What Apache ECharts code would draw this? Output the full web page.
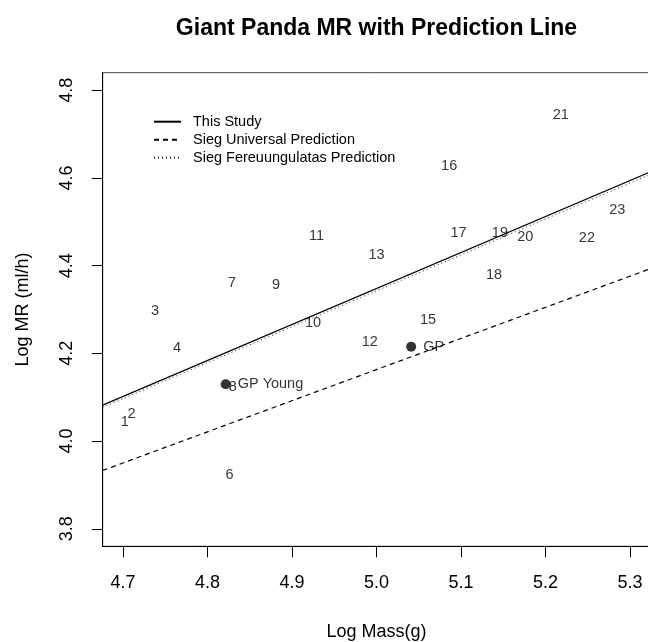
<!DOCTYPE html>
<html>
<head>
<meta charset="utf-8">
<script src="https://cdn.jsdelivr.net/npm/echarts@6/dist/echarts.min.js"></script>
<style>
html,body{margin:0;padding:0;background:#fff;}
#chart{width:648px;height:642px;}
</style>
</head>
<body>
<div id="chart"></div>
<script>
// ---- data ----
const speciesIds = ['1','2','3','4','6','7','8','9','10','11','12','13','15','16','17','18','19','20','21','22','23'];
const speciesLogMass = [4.702,4.710,4.738,4.764,4.826,4.829,4.830,4.881,4.925,4.929,4.992,5.000,5.061,5.086,5.097,5.139,5.146,5.176,5.218,5.249,5.285];
const speciesLogMR   = [4.044,4.061,4.297,4.212,3.923,4.360,4.123,4.356,4.269,4.468,4.226,4.424,4.275,4.628,4.474,4.379,4.474,4.466,4.744,4.463,4.527];

const pandaNames   = ['GP Young','GP'];
const pandaLogMass = [4.8215, 5.041];
const pandaLogMR   = [4.1295, 4.215];

const lineX            = [4.676, 5.324];
const thisStudyY       = [4.082, 4.614];
const siegUniversalY   = [3.933, 4.393];
const siegFereuungY    = [4.077, 4.608];

const xTicks = [4.7,4.8,4.9,5.0,5.1,5.2,5.3];
const yTicks = [3.8,4.0,4.2,4.4,4.6,4.8];

const seriesNames = ['This Study','Sieg Universal Prediction','Sieg Fereuungulatas Prediction'];

// ---- build chart ----
const FONT = '"Liberation Sans", Arial, Helvetica, sans-serif';
const chart = echarts.init(document.getElementById('chart'), null, {renderer:'canvas'});

function pairs(xs, ys){ return xs.map((x,i)=>[x, ys[i]]); }

const option = {
  animation: false,
  backgroundColor: '#ffffff',
  textStyle: {fontFamily: FONT, color: '#000'},
  title: {
    text: 'Giant Panda MR with Prediction Line',
    left: 376.5, top: 17, textAlign: 'center', padding: 0,
    textStyle: {fontFamily: FONT, fontWeight: 'bold', fontSize: 23, color: '#000'}
  },
  legend: {
    data: seriesNames,
    orient: 'vertical',
    left: 153, top: 114.2, padding: 0,
    itemWidth: 27, itemHeight: 14, itemGap: 3,
    selectedMode: false,
    itemStyle: {opacity: 0, borderWidth: 0},
    textStyle: {fontFamily: FONT, fontSize: 14.5, color: '#000', lineHeight: 14, padding: [0,0,0,7]}
  },
  grid: {
    left: 102.7, right: -2.3, top: 72.7, bottom: 95.7,
    outerBoundsMode: 'none',
    show: true, borderColor: '#444', borderWidth: 1, containLabel: false
  },
  xAxis: {
    type: 'value', min: 4.676, max: 5.324,
    name: 'Log Mass(g)', nameLocation: 'middle', nameGap: 76.7,
    nameTextStyle: {fontFamily: FONT, fontSize: 18, color: '#000', lineHeight: 18},
    splitLine: {show: false},
    axisLine: {show: true, onZero: false, lineStyle: {color: '#000', width: 1}},
    axisTick: {show: true, inside: false, length: 11, customValues: xTicks, lineStyle: {color: '#000', width: 1}},
    axisLabel: {show: true, customValues: xTicks, margin: 27.7, fontFamily: FONT, fontSize: 18, color: '#000', lineHeight: 18,
      formatter: v => v.toFixed(1)}
  },
  yAxis: {
    type: 'value', min: 3.76, max: 4.84,
    name: 'Log MR (ml/h)', nameLocation: 'middle', nameGap: 71, nameRotate: 90,
    nameTextStyle: {fontFamily: FONT, fontSize: 18, color: '#000', lineHeight: 18},
    splitLine: {show: false},
    axisLine: {show: true, onZero: false, lineStyle: {color: '#000', width: 1}},
    axisTick: {show: true, inside: false, length: 11, customValues: yTicks, lineStyle: {color: '#000', width: 1}},
    axisLabel: {show: true, customValues: yTicks, margin: 27, rotate: 90, fontFamily: FONT, fontSize: 18, color: '#000', lineHeight: 18,
      formatter: v => v.toFixed(1)}
  },
  series: [
    {
      name: seriesNames[0], type: 'line', data: pairs(lineX, thisStudyY),
      symbol: 'none', showSymbol: false, clip: true, z: 3,
      lineStyle: {color: '#000', width: 1.2, type: 'solid'}, itemStyle: {color: '#000'}
    },
    {
      name: seriesNames[1], type: 'line', data: pairs(lineX, siegUniversalY),
      symbol: 'none', showSymbol: false, clip: true, z: 3,
      lineStyle: {color: '#000', width: 1.2, type: [5,4]}, itemStyle: {color: '#000'}
    },
    {
      name: seriesNames[2], type: 'line', data: pairs(lineX, siegFereuungY),
      symbol: 'none', showSymbol: false, clip: true, z: 3,
      lineStyle: {color: '#222', width: 1, type: [1,3]}, itemStyle: {color: '#222'}
    },
    {
      name: 'species', type: 'scatter',
      data: speciesIds.map((id,i)=>({name: id, value: [speciesLogMass[i], speciesLogMR[i]]})),
      symbol: 'circle', symbolSize: 0, z: 4,
      itemStyle: {color: 'rgba(0,0,0,0)'},
      label: {show: true, position: 'inside', formatter: p => p.name,
        fontFamily: FONT, fontSize: 14.5, color: '#000'}
    },
    {
      name: 'panda', type: 'scatter',
      data: pandaNames.map((n,i)=>({name: n, value: [pandaLogMass[i], pandaLogMR[i]]})),
      symbol: 'circle', symbolSize: 10, z: 5,
      itemStyle: {color: '#000'},
      label: {show: true, position: 'right', distance: 7, formatter: p => p.name,
        fontFamily: FONT, fontSize: 14.5, color: '#000'}
    }
  ]
};
chart.setOption(option);
</script>
</body>
</html>
